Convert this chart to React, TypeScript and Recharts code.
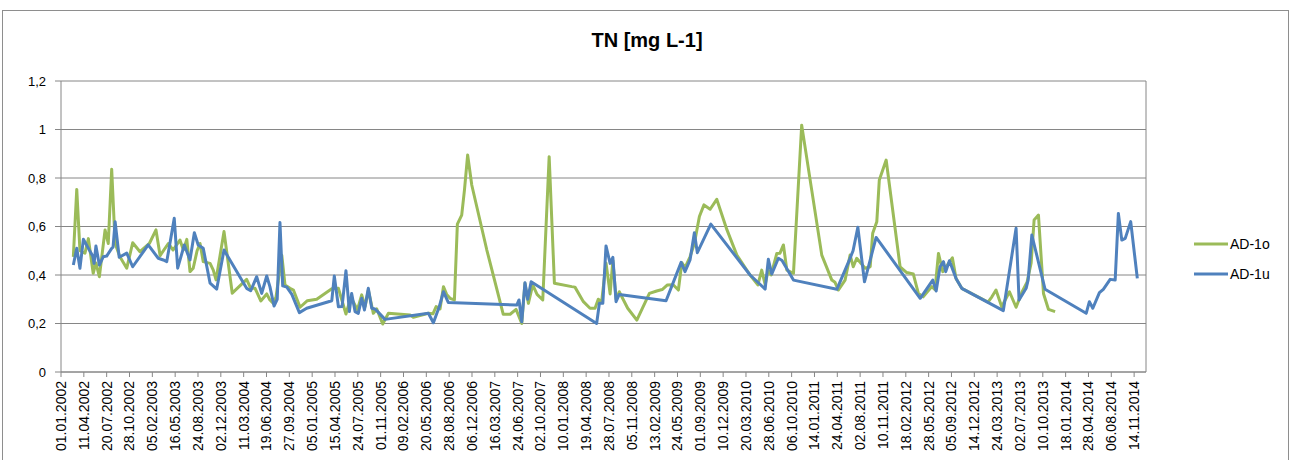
import React from 'react';
import { LineChart, Line, XAxis, YAxis, CartesianGrid, Legend } from 'recharts';

const tickLabels = [
  '01.01.2002', '11.04.2002', '20.07.2002', '28.10.2002', '05.02.2003', '16.05.2003', '24.08.2003', '02.12.2003',
  '11.03.2004', '19.06.2004', '27.09.2004', '05.01.2005', '15.04.2005', '24.07.2005', '01.11.2005', '09.02.2006',
  '20.05.2006', '28.08.2006', '06.12.2006', '16.03.2007', '24.06.2007', '02.10.2007', '10.01.2008', '19.04.2008',
  '28.07.2008', '05.11.2008', '13.02.2009', '24.05.2009', '01.09.2009', '10.12.2009', '20.03.2010', '28.06.2010',
  '06.10.2010', '14.01.2011', '24.04.2011', '02.08.2011', '10.11.2011', '18.02.2012', '28.05.2012', '05.09.2012',
  '14.12.2012', '24.03.2013', '02.07.2013', '10.10.2013', '18.01.2014', '28.04.2014', '06.08.2014', '14.11.2014',
];
const xDomainEnd = '05.01.2015';
const yTicks = [0, 0.2, 0.4, 0.6, 0.8, 1, 1.2];
const rightTicks = [0, 0.2, 0.4, 0.6, 0.8, 1];
const seriesNames = ['AD-1o', 'AD-1u'];
const seriesColors = ['#9BBB59', '#4F81BD'];
const title = 'TN [mg L-1]';

const oDates = [
  '24.02.2002', '11.03.2002', '25.03.2002', '16.04.2002', '01.05.2002', '22.05.2002', '03.06.2002', '18.06.2002',
  '13.07.2002', '27.07.2002', '11.08.2002', '26.08.2002', '16.09.2002', '16.10.2002', '11.11.2002', '13.12.2002',
  '23.01.2003', '21.02.2003', '11.03.2003', '16.04.2003', '07.05.2003', '06.06.2003', '21.06.2003', '06.07.2003',
  '20.07.2003', '03.08.2003', '20.08.2003', '02.09.2003', '16.09.2003', '16.10.2003', '30.10.2003', '11.11.2003',
  '16.12.2003', '21.01.2004', '24.03.2004', '11.04.2004', '30.04.2004', '25.05.2004', '20.06.2004', '04.07.2004',
  '19.07.2004', '31.07.2004', '25.08.2004', '08.09.2004', '30.09.2004', '15.10.2004', '13.11.2004', '15.12.2004',
  '25.01.2005', '01.04.2005', '30.04.2005', '15.05.2005', '02.06.2005', '20.06.2005', '04.07.2005', '22.07.2005',
  '10.08.2005', '25.08.2005', '08.09.2005', '30.09.2005', '15.10.2005', '10.11.2005', '05.12.2005', '10.03.2006',
  '24.03.2006', '29.05.2006', '18.06.2006', '02.07.2006', '19.07.2006', '03.08.2006', '17.08.2006', '01.09.2006',
  '20.09.2006', '03.10.2006', '22.10.2006', '03.11.2006', '17.11.2006', '05.12.2006', '09.02.2007', '24.03.2007',
  '22.04.2007', '22.05.2007', '17.06.2007', '12.07.2007', '26.07.2007', '10.08.2007', '29.08.2007', '17.09.2007',
  '12.10.2007', '09.11.2007', '02.12.2007', '16.02.2008', '01.03.2008', '07.04.2008', '06.05.2008', '28.05.2008',
  '11.06.2008', '26.06.2008', '15.07.2008', '02.08.2008', '14.08.2008', '28.08.2008', '11.09.2008', '18.10.2008',
  '27.11.2008', '21.01.2009', '22.02.2009', '18.03.2009', '10.04.2009', '05.05.2009', '28.05.2009', '12.06.2009',
  '26.06.2009', '18.07.2009', '06.08.2009', '28.08.2009', '17.09.2009', '14.10.2009', '12.11.2009', '26.12.2009',
  '08.02.2010', '07.04.2010', '11.05.2010', '28.05.2010', '12.06.2010', '25.06.2010', '08.07.2010', '02.08.2010',
  '16.08.2010', '31.08.2010', '15.09.2010', '14.10.2010', '19.11.2010', '02.01.2011', '15.02.2011', '31.03.2011',
  '14.04.2011', '29.04.2011', '28.05.2011', '19.06.2011', '03.07.2011', '18.07.2011', '24.08.2011', '15.09.2011',
  '26.09.2011', '14.10.2011', '25.10.2011', '24.11.2011', '24.01.2012', '22.02.2012', '22.03.2012', '13.04.2012',
  '04.05.2012', '11.06.2012', '25.06.2012', '10.07.2012', '29.07.2012', '17.08.2012', '09.09.2012', '25.09.2012',
  '20.10.2012', '12.02.2013', '01.03.2013', '19.03.2013', '13.04.2013', '17.05.2013', '15.06.2013', '11.07.2013',
  '02.08.2013', '20.08.2013', '02.09.2013', '21.09.2013', '13.10.2013', '04.11.2013', '03.12.2013',
];
const oValues = [
  0.475, 0.753, 0.5, 0.49, 0.55, 0.407, 0.45, 0.393,
  0.586, 0.53, 0.836, 0.53, 0.475, 0.428, 0.533, 0.496,
  0.53, 0.586, 0.48, 0.53, 0.503, 0.544, 0.503, 0.547,
  0.414, 0.428, 0.5, 0.53, 0.455, 0.448, 0.42, 0.38,
  0.579, 0.325, 0.382, 0.345, 0.345, 0.293, 0.322, 0.297,
  0.283, 0.31, 0.482, 0.359, 0.345, 0.338, 0.267, 0.294,
  0.3, 0.343, 0.345, 0.297, 0.239, 0.297, 0.29, 0.256,
  0.318, 0.27, 0.338, 0.242, 0.26, 0.198, 0.242, 0.235,
  0.226, 0.242, 0.24, 0.27, 0.26, 0.352, 0.32, 0.304,
  0.297, 0.61, 0.647, 0.75, 0.895, 0.771, 0.503, 0.345,
  0.238, 0.238, 0.258, 0.2, 0.366, 0.283, 0.359, 0.32,
  0.297, 0.888, 0.366, 0.352, 0.35, 0.29, 0.263, 0.263,
  0.3, 0.29, 0.45, 0.322, 0.46, 0.3, 0.331, 0.263,
  0.214, 0.324, 0.334, 0.34, 0.359, 0.36, 0.338, 0.451,
  0.43, 0.475, 0.53, 0.641, 0.689, 0.671, 0.712, 0.588,
  0.482, 0.4, 0.359, 0.42, 0.36, 0.42, 0.4, 0.489,
  0.49, 0.524, 0.42, 0.407, 1.018, 0.75, 0.482, 0.379,
  0.37, 0.338, 0.379, 0.482, 0.434, 0.469, 0.428, 0.434,
  0.572, 0.62, 0.792, 0.874, 0.434, 0.41, 0.404, 0.324,
  0.31, 0.352, 0.34, 0.489, 0.414, 0.44, 0.471, 0.386,
  0.345, 0.288, 0.31, 0.338, 0.269, 0.331, 0.267, 0.33,
  0.37, 0.45, 0.627, 0.647, 0.324, 0.258, 0.249,
];

const uDates = [
  '24.02.2002', '11.03.2002', '25.03.2002', '09.04.2002', '05.05.2002', '20.05.2002', '26.05.2002', '03.06.2002',
  '18.06.2002', '05.07.2002', '20.07.2002', '11.08.2002', '17.08.2002', '26.08.2002', '13.09.2002', '16.10.2002',
  '11.11.2002', '18.01.2003', '03.03.2003', '25.03.2003', '09.04.2003', '23.04.2003', '12.05.2003', '27.05.2003',
  '25.06.2003', '20.07.2003', '08.08.2003', '25.08.2003', '16.09.2003', '16.10.2003', '14.11.2003', '16.12.2003',
  '24.03.2004', '11.04.2004', '07.05.2004', '29.05.2004', '20.06.2004', '04.07.2004', '22.07.2004', '05.08.2004',
  '17.08.2004', '29.08.2004', '16.09.2004', '08.10.2004', '10.11.2004', '12.12.2004', '01.04.2005', '12.04.2005',
  '30.04.2005', '16.05.2005', '02.06.2005', '17.06.2005', '27.06.2005', '12.07.2005', '26.07.2005', '10.08.2005',
  '22.08.2005', '08.09.2005', '23.09.2005', '07.10.2005', '19.10.2005', '20.11.2005', '29.05.2006', '20.06.2006',
  '16.07.2006', '03.08.2006', '24.08.2006', '20.06.2007', '30.06.2007', '12.07.2007', '26.07.2007', '07.08.2007',
  '22.08.2007', '04.06.2008', '16.06.2008', '01.07.2008', '15.07.2008', '02.08.2008', '14.08.2008', '28.08.2008',
  '11.09.2008', '04.04.2009', '09.06.2009', '26.06.2009', '18.07.2009', '06.08.2009', '19.08.2009', '17.10.2009',
  '07.04.2010', '12.06.2010', '26.06.2010', '11.07.2010', '09.08.2010', '25.08.2010', '14.10.2010', '22.04.2011',
  '16.06.2011', '02.07.2011', '23.07.2011', '21.08.2011', '11.10.2011', '21.04.2012', '15.06.2012', '30.06.2012',
  '17.07.2012', '01.08.2012', '11.08.2012', '27.08.2012', '25.09.2012', '20.10.2012', '20.04.2013', '15.06.2013',
  '28.06.2013', '29.07.2013', '07.08.2013', '23.08.2013', '20.10.2013', '18.04.2014', '02.05.2014', '17.05.2014',
  '15.06.2014', '02.07.2014', '01.08.2014', '23.08.2014', '06.09.2014', '21.09.2014', '06.10.2014', '30.10.2014',
  '28.11.2014',
];
const uValues = [
  0.441, 0.51, 0.428, 0.547, 0.503, 0.478, 0.448, 0.52,
  0.441, 0.475, 0.478, 0.51, 0.515, 0.62, 0.473, 0.49,
  0.434, 0.524, 0.469, 0.462, 0.455, 0.53, 0.634, 0.428,
  0.524, 0.462, 0.574, 0.524, 0.51, 0.366, 0.342, 0.503,
  0.345, 0.335, 0.393, 0.324, 0.396, 0.352, 0.272, 0.3,
  0.616, 0.355, 0.35, 0.32, 0.245, 0.263, 0.294, 0.396,
  0.269, 0.27, 0.418, 0.249, 0.324, 0.249, 0.242, 0.304,
  0.256, 0.345, 0.263, 0.26, 0.249, 0.217, 0.242, 0.203,
  0.27, 0.331, 0.287, 0.276, 0.297, 0.207, 0.368, 0.3,
  0.372, 0.2, 0.283, 0.283, 0.52, 0.448, 0.473, 0.29,
  0.32, 0.294, 0.452, 0.414, 0.462, 0.574, 0.492, 0.61,
  0.4, 0.342, 0.465, 0.404, 0.469, 0.46, 0.379, 0.341,
  0.462, 0.5, 0.597, 0.372, 0.555, 0.304, 0.379, 0.334,
  0.434, 0.455, 0.414, 0.459, 0.386, 0.345, 0.253, 0.593,
  0.297, 0.345, 0.38, 0.565, 0.341, 0.242, 0.29, 0.263,
  0.327, 0.341, 0.382, 0.379, 0.654, 0.544, 0.551, 0.62,
  0.386,
];

const toTime = (s: string) => {
  const [d, m, y] = s.split('.').map(Number);
  return Date.UTC(y, m - 1, d);
};

const tickTimes = tickLabels.map(toTime);
const oData = oDates.map((d, i) => ({ t: toTime(d), v: oValues[i] }));
const uData = uDates.map((d, i) => ({ t: toTime(d), v: uValues[i] }));
const seriesData = [oData, uData];

const FONT = '"Liberation Sans", Arial, sans-serif';

const fmtY = (v: number) => (Number.isInteger(v) ? String(v) : v.toFixed(1).replace('.', ','));

const XTick = (props: any) => {
  const { x, y, payload } = props;
  const idx = tickTimes.indexOf(payload.value);
  const label = idx >= 0 ? tickLabels[idx] : '';
  return (
    <text
      x={x}
      y={y}
      transform={`rotate(-90 ${x} ${y})`}
      textAnchor="end"
      dominantBaseline="central"
      fontSize={14}
      fontFamily={FONT}
      fill="#000"
    >
      {label}
    </text>
  );
};

const LegendContent = () => (
  <div style={{ fontFamily: FONT, fontSize: 14, color: '#000' }}>
    {seriesNames.map((n, i) => (
      <div key={n} style={{ display: 'flex', alignItems: 'center', height: 30 }}>
        <svg width={36} height={10} style={{ display: 'block' }}>
          <line x1={1} y1={5} x2={35} y2={5} stroke={seriesColors[i]} strokeWidth={3} />
        </svg>
        <span style={{ marginLeft: 1 }}>{n}</span>
      </div>
    ))}
  </div>
);

export default function App() {
  return (
    <div style={{ position: 'absolute', left: 0, top: 0, width: 1290, height: 460, background: '#fff', overflow: 'hidden' }}>
      <div
        style={{
          position: 'absolute', left: 2, top: 10, width: 1287, height: 470,
          border: '1px solid #8e8e8e', boxSizing: 'border-box',
        }}
      />
      <div
        style={{
          position: 'absolute', left: 2, top: 29, width: 1290, textAlign: 'center',
          fontFamily: FONT, fontWeight: 'bold', fontSize: 20, color: '#000',
        }}
      >
        {title}
      </div>
      <div style={{ position: 'absolute', left: 0, top: 0 }}>
        <LineChart width={1290} height={460} margin={{ top: 81, right: 134, bottom: 0, left: 0 }}>
          <CartesianGrid vertical={false} stroke="#868686" strokeWidth={1} />
          <XAxis
            dataKey="t"
            type="number"
            domain={[tickTimes[0], toTime(xDomainEnd)]}
            allowDataOverflow
            ticks={tickTimes}
            interval={0}
            tickSize={5}
            tickMargin={4}
            height={88}
            stroke="#868686"
            tick={<XTick />}
          />
          <YAxis
            domain={[0, 1.2]}
            ticks={yTicks}
            interval={0}
            tickSize={6}
            tickMargin={9}
            width={61}
            stroke="#868686"
            tickFormatter={fmtY}
            tick={{ fontSize: 13, fill: '#000', fontFamily: FONT }}
          />
          <YAxis
            yAxisId="r"
            orientation="right"
            domain={[0, 1]}
            ticks={rightTicks}
            interval={0}
            tick={false}
            tickSize={5}
            width={10}
            stroke="#868686"
          />
          <Legend
            layout="vertical"
            align="center"
            verticalAlign="middle"
            wrapperStyle={{ left: 1193, top: 229, width: 95 }}
            content={<LegendContent />}
          />
          {seriesData.map((d, i) => (
            <Line
              key={seriesNames[i]}
              data={d}
              dataKey="v"
              name={seriesNames[i]}
              type="linear"
              stroke={seriesColors[i]}
              strokeWidth={3}
              strokeLinejoin="round"
              dot={false}
              activeDot={false}
              isAnimationActive={false}
            />
          ))}
        </LineChart>
      </div>
    </div>
  );
}
